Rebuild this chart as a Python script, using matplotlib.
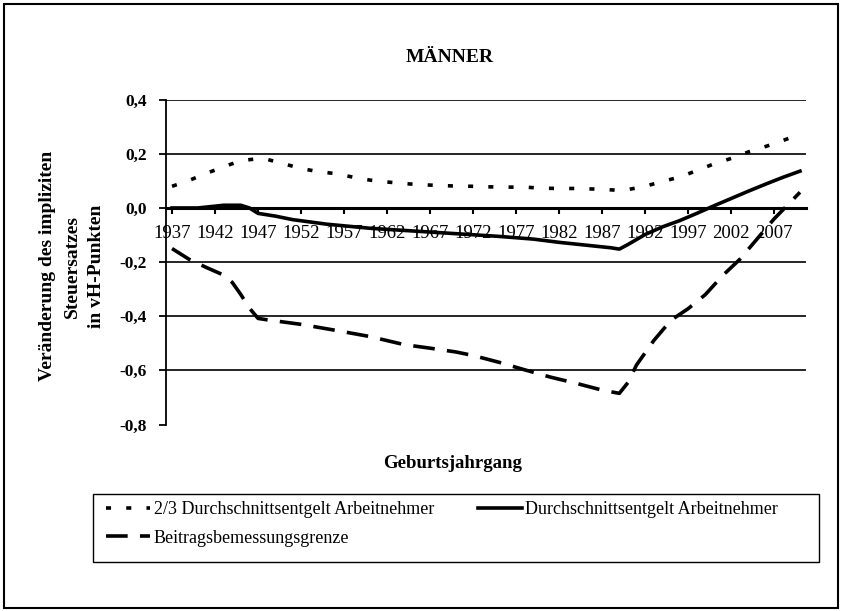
import numpy as np
import matplotlib
matplotlib.use('Agg')
import matplotlib.pyplot as plt
from matplotlib.patches import Rectangle

plt.rcParams['font.family'] = ['Liberation Serif', 'DejaVu Serif']

# Daten
years_a = [1937, 1939, 1941, 1943, 1945, 1947, 1948, 1950, 1952, 1954, 1956, 1958,
           1960, 1962, 1964, 1966, 1968, 1970, 1972, 1974, 1976, 1978, 1980, 1982,
           1984, 1986, 1988, 1989, 1990, 1992, 1994, 1996, 1998, 2000, 2002, 2004,
           2006, 2008, 2010]
zweidrittel = [0.080, 0.102, 0.128, 0.152, 0.175, 0.182, 0.180, 0.163, 0.146, 0.134,
               0.127, 0.114, 0.103, 0.096, 0.090, 0.086, 0.083, 0.081, 0.080, 0.078,
               0.077, 0.077, 0.073, 0.072, 0.072, 0.070, 0.067, 0.065, 0.068, 0.080,
               0.098, 0.114, 0.138, 0.163, 0.183, 0.207, 0.227, 0.249, 0.273]

years_b = [1937, 1940, 1943, 1945, 1946, 1947, 1949, 1951, 1955, 1960, 1965, 1970,
           1975, 1979, 1982, 1985, 1988, 1989, 1990, 1992, 1994, 1996, 1998, 2000,
           2002, 2004, 2006, 2008, 2010]
durchschnitt = [0.0, 0.0, 0.010, 0.010, 0.0, -0.020, -0.030, -0.043, -0.060, -0.075,
                -0.085, -0.095, -0.105, -0.115, -0.127, -0.137, -0.147, -0.152, -0.135,
                -0.098, -0.070, -0.047, -0.020, 0.008, 0.035, 0.062, 0.088, 0.113, 0.136]

years_c = [1937, 1939, 1941, 1943, 1944, 1945, 1946, 1947, 1948, 1952, 1956, 1960,
           1962, 1964, 1967, 1970, 1972, 1975, 1978, 1981, 1984, 1987, 1989, 1990,
           1991, 1993, 1995, 1997, 1999, 2001, 2003, 2005, 2007, 2009, 2010]
bbg = [-0.150, -0.190, -0.220, -0.248, -0.275, -0.320, -0.370, -0.408, -0.413, -0.430,
       -0.452, -0.475, -0.490, -0.505, -0.518, -0.532, -0.545, -0.570, -0.598, -0.625,
       -0.648, -0.673, -0.685, -0.645, -0.580, -0.490, -0.415, -0.372, -0.320, -0.250,
       -0.190, -0.115, -0.040, 0.025, 0.058]

xticks = list(range(1937, 2008, 5))
yticks = [0.4, 0.2, 0.0, -0.2, -0.4, -0.6, -0.8]
ytick_labels = ['0,4', '0,2', '0,0', '-0,2', '-0,4', '-0,6', '-0,8']

W, H = 841, 611
fig = plt.figure(figsize=(W / 100, H / 100), dpi=100)

# Rahmen um das ganze Diagramm
fig.patches.append(Rectangle((4 / W, 3 / H), 834 / W, 604 / H, transform=fig.transFigure,
                             fill=False, edgecolor='black', linewidth=1.5))

ax = fig.add_axes([166 / W, 1 - 424.5 / H, 640 / W, 324.8 / H])
ax.set_xlim(1936.3, 2010.7)
ax.set_ylim(-0.8, 0.4)

for g in [0.4, 0.2, -0.2, -0.4, -0.6]:
    ax.axhline(g, color='black', linewidth=1.2, zorder=1)

l1, = ax.plot(years_a, zweidrittel, color='black', linewidth=2.6, dashes=(1.4, 4.2),
              dash_capstyle='butt', zorder=3, clip_on=False)
l2, = ax.plot(years_b, durchschnitt, color='black', linewidth=2.6, zorder=3, clip_on=False)
l3, = ax.plot(years_c, bbg, color='black', linewidth=2.6, dashes=(6.0, 3.4),
              dash_capstyle='butt', zorder=3, clip_on=False)

for s in ['top', 'right']:
    ax.spines[s].set_visible(False)
ax.spines['left'].set_linewidth(1.3)
ax.spines['bottom'].set_position(('data', 0))
ax.spines['bottom'].set_linewidth(2.2)
ax.spines['bottom'].set_zorder(2)

ax.set_yticks(yticks)
ax.set_yticklabels(ytick_labels, fontsize=12.5, fontweight='bold')
ax.tick_params(axis='y', direction='out', length=5, width=1.3, pad=9)
ax.set_xticks(xticks)
ax.set_xticklabels([str(y) for y in xticks], fontsize=13.5)
ax.tick_params(axis='x', direction='out', length=4, width=1.5, pad=8)

fig.text(450 / W, 1 - 57 / H, 'MÄNNER', fontsize=14, fontweight='bold',
         ha='center', va='center')
fig.text(453 / W, 1 - 463 / H, 'Geburtsjahrgang', fontsize=13.5, fontweight='bold',
         ha='center', va='center')
fig.text(72 / W, 1 - 266 / H, 'Veränderung des impliziten\nSteuersatzes\nin vH-Punkten',
         fontsize=14, fontweight='bold', rotation=90, ha='center', va='center',
         linespacing=1.55)

# Legende: Rahmen separat, Einträge ohne eigenen Rahmen
fig.patches.append(Rectangle((93 / W, 1 - 562 / H), 726 / W, 68 / H,
                             transform=fig.transFigure, fill=False,
                             edgecolor='black', linewidth=1.0))
leg = fig.legend([l1, l3, l2],
                 ['2/3 Durchschnittsentgelt Arbeitnehmer', 'Beitragsbemessungsgrenze',
                  'Durchschnittsentgelt Arbeitnehmer'],
                 ncol=2, loc='upper left',
                 bbox_to_anchor=(106 / W, 1 - 501 / H),
                 fontsize=13, frameon=False,
                 handlelength=2.45, handletextpad=0.2, columnspacing=2.4,
                 labelspacing=0.65, borderaxespad=0, borderpad=0)

fig.savefig('out.png', dpi=100)
